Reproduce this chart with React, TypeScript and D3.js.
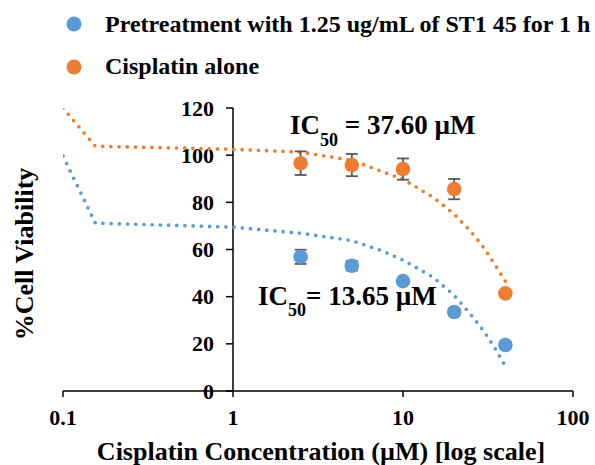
import React from "react";
import * as d3 from "d3";

// Measured cell viability (%) at each cisplatin concentration (µM)
const concentrations = [2.5, 5, 10, 20, 40];
const pretreatedViability = [56.9, 53.1, 46.6, 33.5, 19.5];
const pretreatedError = [3, 2, 1, 1, 1];
const cisplatinViability = [96.6, 95.8, 94.1, 85.6, 41.4];
const cisplatinError = [5, 4.7, 4.5, 4.3, 1];

// Dose-response fit curves
const pretreatedFitX = [0.1, 0.155, 1, 2.5, 5, 7.5, 10, 15, 20, 25, 30, 35, 40];
const pretreatedFitY = [99.6, 71.2, 69.5, 66.9, 63.8, 59.5, 55.5, 48.3, 40.6, 32.5, 25.2, 17.8, 10.5];
const cisplatinFitX = [0.1, 0.155, 1, 2.5, 5, 10, 15, 20, 25, 30, 35, 40];
const cisplatinFitY = [120, 103.8, 102.5, 101.3, 97.8, 89.8, 82.2, 75, 67.8, 60.6, 53.2, 46.5];

const xTicks = [0.1, 1, 10, 100];
const yTicks = [0, 20, 40, 60, 80, 100, 120];

const seriesNames = ["Pretreatment with 1.25 ug/mL of ST1 45 for 1 h", "Cisplatin alone"];
const ic50Pretreated = "13.65";
const ic50Cisplatin = "37.60";

const BLUE = "#5B9BD5";
const ORANGE = "#ED7D31";
const ERR = "#595959";
const FONT = "'Liberation Serif', 'Times New Roman', serif";

export default function App() {
  const W = 595;
  const H = 465;
  const x = d3.scaleLog().domain([0.1, 100]).range([63, 573]);
  const y = d3.scaleLinear().domain([0, 120]).range([391, 108]);
  const yAxisX = x(1);

  const line = d3
    .line<[number, number]>()
    .x((d) => x(d[0]))
    .y((d) => y(d[1]))
    .curve(d3.curveLinear);

  const pretreatedFit = line(pretreatedFitX.map((v, i) => [v, pretreatedFitY[i]]) as [number, number][]) || "";
  const cisplatinFit = line(cisplatinFitX.map((v, i) => [v, cisplatinFitY[i]]) as [number, number][]) || "";

  const errorBars = (vals: number[], errs: number[], key: string) =>
    concentrations.map((c, i) => {
      const cx = x(c);
      const top = y(vals[i] + errs[i]);
      const bot = y(vals[i] - errs[i]);
      return (
        <g key={key + i} stroke={ERR} strokeWidth={1.8}>
          <line x1={cx} x2={cx} y1={top} y2={bot} />
          <line x1={cx - 6} x2={cx + 6} y1={top} y2={top} />
          <line x1={cx - 6} x2={cx + 6} y1={bot} y2={bot} />
        </g>
      );
    });

  const markers = (vals: number[], color: string, key: string) =>
    concentrations.map((c, i) => <circle key={key + i} cx={x(c)} cy={y(vals[i])} r={7.3} fill={color} />);

  return (
    <svg width={W} height={H} style={{ position: "absolute", left: 0, top: 0, background: "#fff" }} fontFamily={FONT}>
      <defs>
        <clipPath id="plotArea">
          <rect x={x(0.1)} y={y(120)} width={x(100) - x(0.1)} height={y(0) - y(120)} />
        </clipPath>
      </defs>
      <rect width={W} height={H} fill="#fff" />

      {/* legend */}
      <circle cx={74} cy={24} r={7.5} fill={BLUE} />
      <text x={105} y={32} fontSize={24} fontWeight="bold">{seriesNames[0]}</text>
      <circle cx={74} cy={67} r={7.5} fill={ORANGE} />
      <text x={105} y={74} fontSize={24} fontWeight="bold">{seriesNames[1]}</text>

      {/* axes */}
      <g stroke="#000" strokeWidth={1.5}>
        <line x1={yAxisX} x2={yAxisX} y1={y(120)} y2={y(0)} />
        {yTicks.map((t) => (
          <line key={"yt" + t} x1={yAxisX - 7} x2={yAxisX} y1={y(t)} y2={y(t)} />
        ))}
        <line x1={x(0.1)} x2={x(100)} y1={y(0)} y2={y(0)} />
        {xTicks.map((t) => (
          <line key={"xt" + t} x1={x(t)} x2={x(t)} y1={y(0)} y2={y(0) + 6} />
        ))}
      </g>
      {yTicks.map((t) => (
        <text key={"yl" + t} x={yAxisX - 19} y={y(t) + 7.5} textAnchor="end" fontSize={22} fontWeight="bold">
          {t}
        </text>
      ))}
      {xTicks.map((t) => (
        <text key={"xl" + t} x={x(t)} y={425} textAnchor="middle" fontSize={22} fontWeight="bold">
          {String(t)}
        </text>
      ))}

      {/* axis titles */}
      <text x={321} y={460} textAnchor="middle" fontSize={26} fontWeight="bold">
        Cisplatin Concentration (µM) [log scale]
      </text>
      <text transform="translate(33,254) rotate(-90)" textAnchor="middle" fontSize={26} fontWeight="bold">
        %Cell Viability
      </text>

      {/* fit curves */}
      <g clipPath="url(#plotArea)" fill="none" strokeWidth={3.7} strokeLinecap="round" strokeDasharray="0 8.2">
        <path d={cisplatinFit} stroke={ORANGE} />
        <path d={pretreatedFit} stroke={BLUE} />
      </g>

      {/* data */}
      {errorBars(pretreatedViability, pretreatedError, "be")}
      {errorBars(cisplatinViability, cisplatinError, "oe")}
      {markers(pretreatedViability, BLUE, "bm")}
      {markers(cisplatinViability, ORANGE, "om")}

      {/* IC50 annotations */}
      <text x={290} y={134} fontSize={27} fontWeight="bold">
        IC<tspan fontSize={18} dy={12}>50</tspan>
        <tspan dy={-12}> = {ic50Cisplatin} µM</tspan>
      </text>
      <text x={258} y={305} fontSize={27} fontWeight="bold">
        IC<tspan fontSize={18} dy={11}>50</tspan>
        <tspan dy={-11}>= {ic50Pretreated} µM</tspan>
      </text>
    </svg>
  );
}
